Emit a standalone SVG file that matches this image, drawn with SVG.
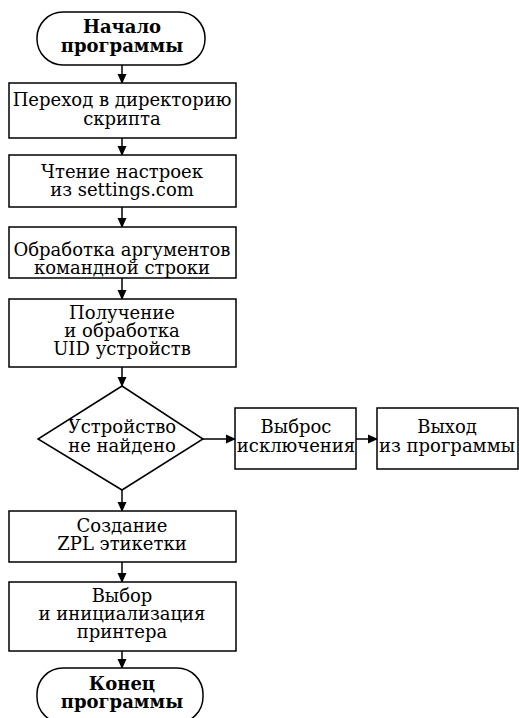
<svg xmlns="http://www.w3.org/2000/svg" width="519" height="718" viewBox="0 0 519 718">
<style>
.s{fill:#fff;stroke:#000;stroke-width:1.5}
text{font-family:"DejaVu Serif","Liberation Serif",serif;font-size:18px;text-anchor:middle;fill:#000}
.b{font-weight:bold}
.c{stroke:#000;stroke-width:1.5;fill:none}
</style>
<defs>
<marker id="a" markerWidth="10" markerHeight="10" refX="9" refY="5" orient="auto" markerUnits="userSpaceOnUse">
<path d="M0,0.5 L10,5 L0,9.5 z" fill="#000"/>
</marker>
</defs>
<rect width="519" height="718" fill="#fff"/>
<g id="edges">
<line class="c" x1="122" y1="65" x2="122" y2="83" marker-end="url(#a)"/>
<line class="c" x1="122" y1="138" x2="122" y2="155" marker-end="url(#a)"/>
<line class="c" x1="122" y1="207" x2="122" y2="227" marker-end="url(#a)"/>
<line class="c" x1="122" y1="278" x2="122" y2="299" marker-end="url(#a)"/>
<line class="c" x1="122" y1="367" x2="122" y2="386" marker-end="url(#a)"/>
<line class="c" x1="203" y1="439" x2="235" y2="439" marker-end="url(#a)"/>
<line class="c" x1="356" y1="439" x2="377" y2="439" marker-end="url(#a)"/>
<line class="c" x1="122" y1="490" x2="122" y2="511" marker-end="url(#a)"/>
<line class="c" x1="122" y1="562" x2="122" y2="582" marker-end="url(#a)"/>
<line class="c" x1="122" y1="651" x2="122" y2="668" marker-end="url(#a)"/>
</g>
<g id="start">
<rect class="s" x="37" y="12" width="168" height="53" rx="26"/>
<text class="b" x="122" y="33">Начало</text>
<text class="b" x="122" y="52">программы</text>
</g>
<g id="n1">
<rect class="s" x="9" y="83" width="227" height="55"/>
<text x="122" y="106">Переход в директорию</text>
<text x="122" y="125">скрипта</text>
</g>
<g id="n2">
<rect class="s" x="9" y="155" width="227" height="52"/>
<text x="122" y="178">Чтение настроек</text>
<text x="122" y="196">из settings.com</text>
</g>
<g id="n3">
<rect class="s" x="9" y="227" width="227" height="51"/>
<text x="122" y="256">Обработка аргументов</text>
<text x="122" y="274">командной строки</text>
</g>
<g id="n4">
<rect class="s" x="9" y="299" width="227" height="68"/>
<text x="122" y="319">Получение</text>
<text x="122" y="337">и обработка</text>
<text x="122" y="355">UID устройств</text>
</g>
<g id="d1">
<polygon class="s" points="122,386 203,439 122,490 38,439"/>
<text x="122" y="433">Устройство</text>
<text x="122" y="452">не найдено</text>
</g>
<g id="n5">
<rect class="s" x="235" y="408" width="121" height="61"/>
<text x="296" y="433">Выброс</text>
<text x="296" y="452">исключения</text>
</g>
<g id="n6">
<rect class="s" x="377" y="408" width="141" height="61"/>
<text x="447" y="433">Выход</text>
<text x="447" y="452">из программы</text>
</g>
<g id="n7">
<rect class="s" x="9" y="511" width="227" height="51"/>
<text x="122" y="532">Создание</text>
<text x="122" y="550">ZPL этикетки</text>
</g>
<g id="n8">
<rect class="s" x="9" y="582" width="227" height="69"/>
<text x="122" y="602">Выбор</text>
<text x="122" y="620">и инициализация</text>
<text x="122" y="638">принтера</text>
</g>
<g id="end">
<rect class="s" x="37" y="668" width="166" height="55" rx="26"/>
<text class="b" x="122" y="690">Конец</text>
<text class="b" x="122" y="708">программы</text>
</g>
</svg>
